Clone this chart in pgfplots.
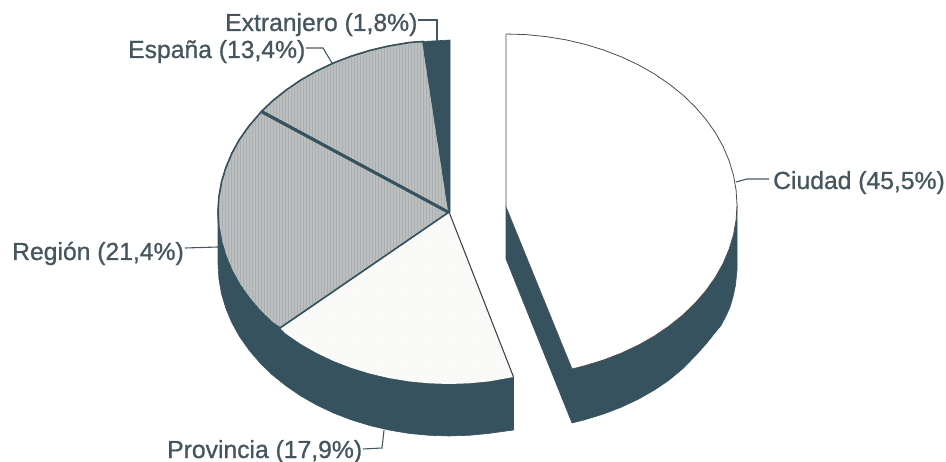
\documentclass[border=0pt]{standalone}
\usepackage{pgfplots}
\pgfplotsset{compat=1.18}
\usepackage{fontspec}
\usetikzlibrary{patterns}
\setmainfont{Liberation Sans}[RawFeature={embolden=0.9}]
\definecolor{dark}{HTML}{36525E}
\definecolor{midg}{HTML}{BBBFBF}
\definecolor{stripe}{HTML}{ABAFAF}
\definecolor{prov}{HTML}{FAFAF8}
\definecolor{txt}{HTML}{46565E}
\newcommand{\lab}[3]{\node[anchor=base west,inner sep=0pt,text=txt,font=\fontsize{24.7}{28}\selectfont] at (axis cs:#1,#2) {#3};}
\begin{document}
\begin{tikzpicture}[x=1pt,y=1pt]
\useasboundingbox (0,0) rectangle (946,462);
\begin{axis}[at={(0,0)},anchor=south west,width=946pt,height=462pt,scale only axis,
  hide axis,xmin=0,xmax=946,ymin=0,ymax=462,y dir=reverse,clip=false]
% main pie side
\addplot[fill=dark,draw=dark,line width=0.6pt] coordinates {(218,212)(218,264)(218.9,279)(221.5,293.9)(225.9,308.5)(231.9,322.8)(239.6,336.7)(249,350)(259.8,362.7)(272,374.6)(285.7,385.6)(300.5,395.8)(316.5,404.9)(333.5,413)(351.4,419.9)(370,425.6)(389.2,430.1)(408.9,433.4)(428.9,435.3)(449,436)(469.1,435.3)(489.1,433.4)(513.5,430)(513.5,377)(449,212)} -- cycle;
% Provincia
\addplot[fill=prov,draw=none,postaction={pattern=dots,pattern color=black!5}] coordinates {(449,212)(280,328)(285.7,333.6)(300.5,343.8)(316.5,352.9)(333.5,361)(351.4,367.9)(370,373.6)(389.2,378.1)(408.9,381.4)(428.9,383.3)(449,384)(469.1,383.3)(489.1,381.4)(513.5,377)} -- cycle;
% Region
\addplot[fill=midg,draw=dark,line width=1.4pt,postaction={pattern=vertical lines,pattern color=stripe}] coordinates {(449,212)(262,111)(249,126)(239.6,139.3)(231.9,153.2)(225.9,167.5)(221.5,182.1)(218.9,197)(218,212)(218.9,227)(221.5,241.9)(225.9,256.5)(231.9,270.8)(239.6,284.7)(249,298)(259.8,310.7)(272,322.6)(280,328)} -- cycle;
% Espana
\addplot[fill=midg,draw=dark,line width=1.4pt,postaction={pattern=vertical lines,pattern color=stripe}] coordinates {(449,212)(423,41.5)(408.9,42.6)(389.2,45.9)(370,50.4)(351.4,56.1)(333.5,63)(316.5,71.1)(300.5,80.2)(285.7,90.4)(272,101.4)(262,111)} -- cycle;
% Extranjero
\addplot[fill=dark,draw=dark,line width=0.6pt] coordinates {(449,212)(423,41.5)(450,40)(450,212)} -- cycle;
% separators
\addplot[draw=dark,line width=3pt] coordinates {(262,112)(448,212)};
\addplot[draw=black!75,line width=1pt] coordinates {(449,212)(513.5,377)};
% Ciudad side
\addplot[fill=dark,draw=dark,line width=0.6pt] coordinates {(506,207)(506,259)(572,423)(585,419.7)(603.6,414)(621.5,407.1)(638.5,399.1)(654.5,390)(669.3,379.9)(683,368.5)(695.2,356)(706,344)(714,334)(721,325.5)(726,316)(730,307)(733,297)(735.5,285)(737,270)(737,205)(572,369)} -- cycle;
% Ciudad top
\addplot[fill=white,draw=black!70,line width=0.8pt] coordinates {(506,207)(506,34)(526.1,34.6)(546.1,36.6)(565.8,39.8)(585,44.3)(603.6,50)(621.5,56.9)(638.5,64.9)(654.5,74)(669.3,84.1)(683,95.1)(695.2,106.9)(706,119.5)(715.4,132.7)(723.1,146.5)(729.1,160.7)(733.5,175.3)(736.1,190.1)(737,205)(736.1,219.9)(733.5,234.7)(729.1,249.3)(723.1,263.5)(715.4,277.3)(706,290.5)(695.2,303.1)(683,314.9)(669.3,325.9)(654.5,336)(638.5,345.1)(621.5,353.1)(603.6,360)(585,365.7)(572,369)} -- cycle;
% leaders
\addplot[draw=txt,line width=1.1pt] coordinates {(418,20)(437,20)(437,41)};
\addplot[draw=txt,line width=1.1pt] coordinates {(306,48)(323,48)(332,63)};
\addplot[draw=txt,line width=1.1pt] coordinates {(185,248)(218,247)};
\addplot[draw=txt,line width=1.1pt] coordinates {(363,449)(382,448)(384,430)};
\addplot[draw=txt,line width=1.1pt] coordinates {(736,182)(747,179)(769,179)};
\lab{225}{31}{Extranjero (1,8\%)}
\lab{128}{58}{España (13,4\%)}
\lab{12}{260}{Región (21,4\%)}
\lab{167}{458}{Provincia (17,9\%)}
\lab{773}{189}{Ciudad (45,5\%)}
\end{axis}
\end{tikzpicture}
\end{document}
